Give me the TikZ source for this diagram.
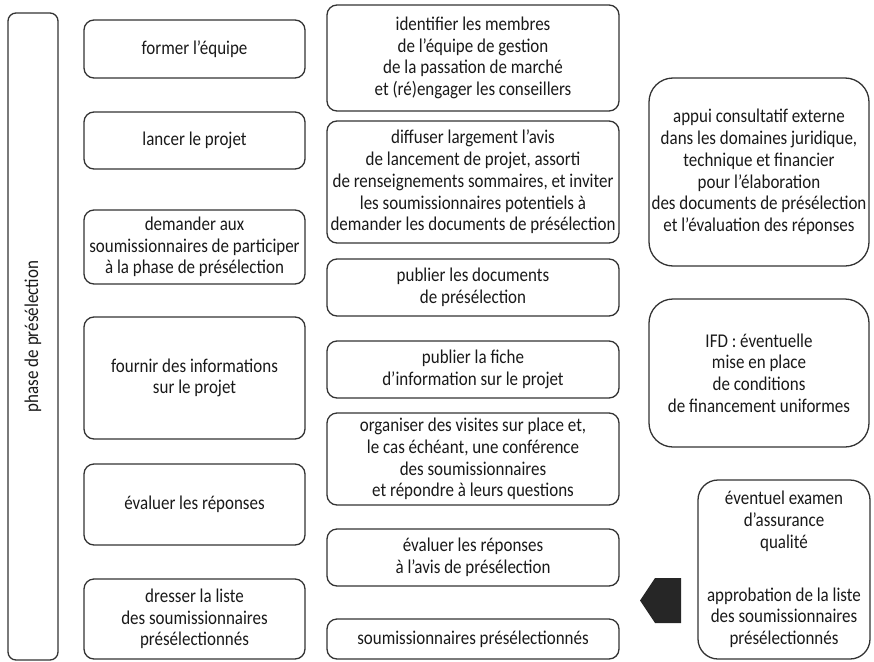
\documentclass[tikz,border=0pt]{standalone}
\usepackage{fontspec}
\setmainfont{Carlito}[FakeStretch=0.87]
\tikzset{
every picture/.style={
line width=1.3pt
}}
\tikzset{
stepbox/.style={draw=black!80, rounded corners=10pt, align=center, inner sep=1pt,
  text=black!90, font=\fontsize{19.5pt}{21.7pt}\selectfont},
sidebox/.style={stepbox, rounded corners=24pt},
phasebox/.style={stepbox, rounded corners=8pt, rotate=90}
}

\begin{document}
\begin{tikzpicture}[x=1pt, y=-1pt]
\useasboundingbox (0,0) rectangle (874,661);

\node[phasebox, minimum width=647pt, minimum height=50pt] (phase) at (33,336.5) {phase de présélection};

% left column: name/y/height/text
\foreach \n/\y/\h/\t in {form/49/58/{former l’équipe},
  lanc/140.5/57/{lancer le projet},
  dema/247/74/{demander aux\\soumissionnaires de participer\\à la phase de présélection},
  four/378/122/{fournir des informations\\sur le projet},
  eval/504.5/81/{évaluer les réponses},
  dres/619/80/{dresser la liste\\des soumissionnaires\\présélectionnés}}{
  \node[stepbox, minimum width=221pt, minimum height=\h pt] (\n) at (194.5,\y) {\t};
}

% middle column
\foreach \n/\y/\h/\t in {iden/58/106/{identifier les membres\\de l’équipe de gestion\\de la passation de marché\\et (ré)engager les conseillers},
  diff/182/122/{diffuser largement l’avis\\de lancement de projet, assorti\\de renseignements sommaires, et inviter\\les soumissionnaires potentiels à\\demander les documents de présélection},
  pubd/287.5/57/{publier les documents\\de présélection},
  pubf/369.5/57/{publier la fiche\\d’information sur le projet},
  orga/459/92/{organiser des visites sur place et,\\le cas échéant, une conférence\\des soumissionnaires\\et répondre à leurs questions},
  evav/557.5/57/{évaluer les réponses\\à l’avis de présélection},
  sous/639/40/{soumissionnaires présélectionnés}}{
  \node[stepbox, minimum width=292pt, minimum height=\h pt] (\n) at (473,\y) {\t};
}

% right column
\node[sidebox, minimum width=220pt, minimum height=188pt] (appui) at (759,172) {appui consultatif externe\\dans les domaines juridique,\\technique et financier\\pour l’élaboration\\des documents de présélection\\et l’évaluation des réponses};
\node[sidebox, minimum width=220pt, minimum height=148pt] (ifd) at (759,373) {IFD : éventuelle\\mise en place\\de conditions\\de financement uniformes};
\node[sidebox, rounded corners=20pt, minimum width=172pt, minimum height=179pt] (qual) at (784,569.5) {éventuel examen\\d’assurance\\qualité\\[31pt]approbation de la liste\\des soumissionnaires\\présélectionnés};

\fill[black!85] (681,578) -- (655,578) -- (640,600.5) -- (655,623) -- (681,623) -- cycle;
\end{tikzpicture}
\end{document}
